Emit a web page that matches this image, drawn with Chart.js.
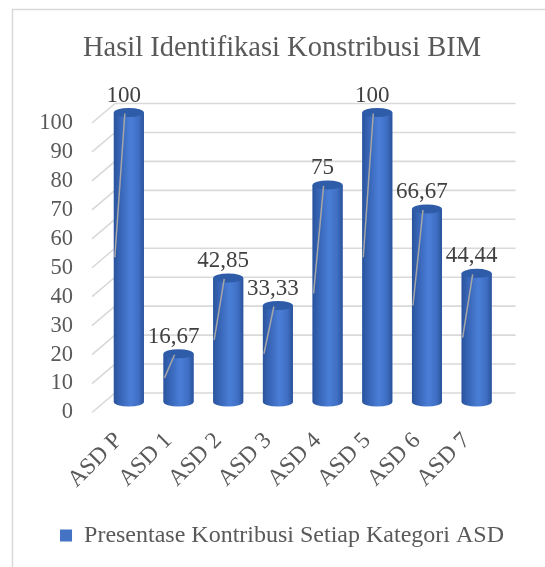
<!DOCTYPE html>
<html>
<head>
<meta charset="utf-8">
<script src="https://cdn.jsdelivr.net/npm/chart.js@4.4.1/dist/chart.umd.min.js"></script>
<style>
  html, body { margin: 0; padding: 0; background: #ffffff; overflow: hidden; }
  #wrap { position: absolute; left: 0; top: 0; width: 564px; height: 567px; }
</style>
</head>
<body>
<div id="wrap"><canvas id="chart" width="564" height="567"></canvas></div>
<script>
const categories = ['ASD P', 'ASD 1', 'ASD 2', 'ASD 3', 'ASD 4', 'ASD 5', 'ASD 6', 'ASD 7'];
const contribution = [100, 16.67, 42.85, 33.33, 75, 100, 66.67, 44.44];
const yTicks = [0, 10, 20, 30, 40, 50, 60, 70, 80, 90, 100];
const seriesName = 'Presentase Kontribusi Setiap Kategori ASD';
const chartTitle = 'Hasil Identifikasi Konstribusi BIM';

const serif = "'Liberation Serif', 'Times New Roman', serif";
const textGrey = '#595959';
const gridGrey = '#d9d9d9';

function fmt(v) {
    return String(v).replace('.', ',');
}

// back wall grid, cylinders and leader-line labels (Excel 3D look)
const cylinderPlugin = {
    id: 'cylinders',
    beforeDraw(chart) {
        const ctx = chart.ctx;
        ctx.save();
        ctx.fillStyle = '#ffffff';
        ctx.fillRect(0, 0, chart.width, chart.height);
        // chart box border (left + top visible)
        ctx.strokeStyle = gridGrey;
        ctx.lineWidth = 1.5;
        ctx.beginPath();
        ctx.moveTo(12.5, chart.height);
        ctx.lineTo(12.5, 9.5);
        ctx.lineTo(chart.width, 9.5);
        ctx.stroke();
        ctx.restore();
    },
    beforeDatasetsDraw(chart) {
        const ctx = chart.ctx;
        const y = chart.scales.y;
        const area = chart.chartArea;
        ctx.save();
        ctx.strokeStyle = gridGrey;
        ctx.lineWidth = 1.6;
        yTicks.forEach(v => {
            const py = y.getPixelForValue(v);
            ctx.beginPath();
            ctx.moveTo(area.left - 12, py + 10.5);
            ctx.lineTo(area.left + 11, py - 9);
            ctx.lineTo(area.right + 14, py - 9);
            ctx.stroke();
        });
        ctx.restore();
    },
    afterDatasetsDraw(chart) {
        const ctx = chart.ctx;
        const meta = chart.getDatasetMeta(0);
        ctx.save();
        meta.data.forEach(bar => {
            const w = bar.width;
            const left = bar.x - w / 2;
            const rx = w / 2;
            const ry = 4.5;
            const grad = ctx.createLinearGradient(left, 0, left + w, 0);
            grad.addColorStop(0, '#2a539b');
            grad.addColorStop(0.18, '#3562b3');
            grad.addColorStop(0.55, '#4a7ed6');
            grad.addColorStop(0.82, '#3f6fc4');
            grad.addColorStop(1, '#2a529a');
            // body + bottom cap
            ctx.fillStyle = grad;
            ctx.beginPath();
            ctx.moveTo(left, bar.y);
            ctx.lineTo(left, bar.base);
            ctx.ellipse(bar.x, bar.base, rx, ry, 0, Math.PI, 0, true);
            ctx.lineTo(left + w, bar.y);
            ctx.closePath();
            ctx.fill();
            // top cap
            ctx.fillStyle = '#2f5ca8';
            ctx.beginPath();
            ctx.ellipse(bar.x, bar.y, rx, ry, 0, 0, Math.PI * 2);
            ctx.fill();
        });
        ctx.restore();
    },
    afterDraw(chart) {
        const ctx = chart.ctx;
        const meta = chart.getDatasetMeta(0);
        ctx.save();
        meta.data.forEach((bar, i) => {
            const left = bar.x - bar.width / 2;
            const mid = (bar.y + bar.base) / 2;
            ctx.strokeStyle = '#a6a6a6';
            ctx.lineWidth = 1.5;
            ctx.beginPath();
            ctx.moveTo(bar.x - 4, bar.y + 1);
            ctx.lineTo(left + 1, mid);
            ctx.stroke();
            ctx.fillStyle = '#404040';
            ctx.font = '23px ' + serif;
            ctx.textAlign = 'center';
            ctx.textBaseline = 'middle';
            ctx.fillText(fmt(contribution[i]), bar.x - 5, bar.y - 17);
        });
        ctx.restore();
    }
};

const ctx = document.getElementById('chart').getContext('2d');
new Chart(ctx, {
    type: 'bar',
    data: {
        labels: categories,
        datasets: [{
            label: seriesName,
            data: contribution,
            backgroundColor: '#4472c4',
            borderWidth: 0,
            barPercentage: 0.604,
            categoryPercentage: 1
        }]
    },
    options: {
        responsive: false,
        animation: false,
        layout: { padding: { left: 0, right: 0, top: 0, bottom: 9.5 } },
        plugins: {
            title: {
                display: true,
                text: chartTitle,
                color: textGrey,
                font: { family: serif, size: 28.5, weight: 'normal' },
                padding: { top: 31.5, bottom: 46.8 }
            },
            legend: {
                position: 'bottom',
                labels: {
                    color: textGrey,
                    font: { family: serif, size: 24 },
                    boxWidth: 12,
                    boxHeight: 12,
                    padding: 10
                }
            },
            tooltip: { enabled: false }
        },
        scales: {
            x: {
                grid: { display: false, drawTicks: false },
                border: { display: false },
                ticks: {
                    color: textGrey,
                    font: { family: serif, size: 23.5 },
                    maxRotation: 45,
                    minRotation: 45,
                    labelOffset: -10,
                    padding: 25
                },
                afterFit(scale) { scale.height = 111.5; }
            },
            y: {
                min: 0,
                max: 100,
                grid: { display: false, drawTicks: false },
                border: { display: false },
                ticks: {
                    stepSize: 10,
                    autoSkip: false,
                    color: textGrey,
                    font: { family: serif, size: 22.5 },
                    labelOffset: 10.5,
                    padding: 31
                },
                afterFit(scale) { scale.width = 104; }
            },
            pad: {
                position: 'right',
                display: true,
                grid: { display: false, drawTicks: false },
                border: { display: false },
                ticks: { display: false },
                afterFit(scale) { scale.width = 62.5; }
            }
        }
    },
    plugins: [cylinderPlugin]
});
</script>
</body>
</html>
